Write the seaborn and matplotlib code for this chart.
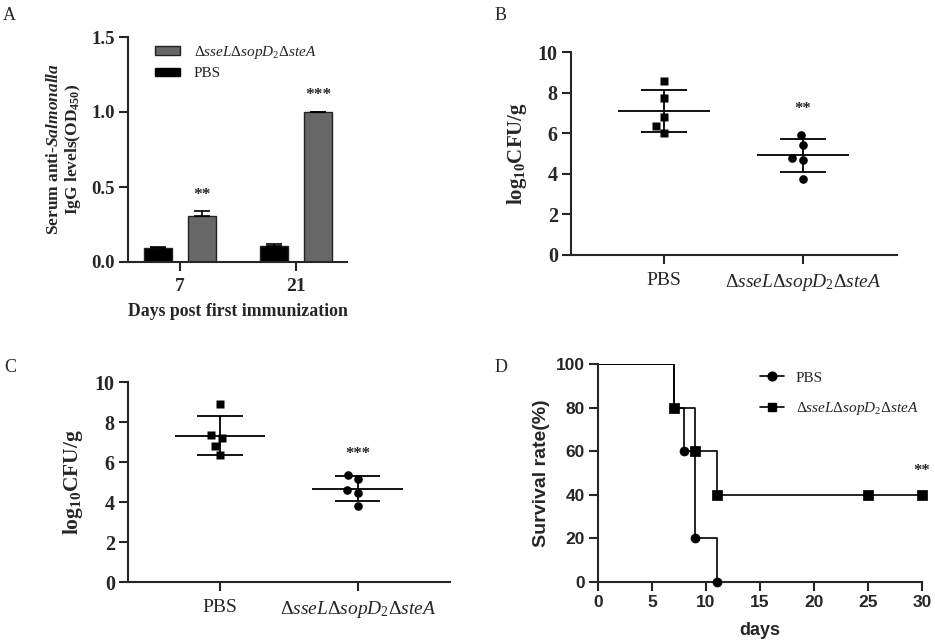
import numpy as np
import pandas as pd
import matplotlib
matplotlib.use('Agg')
import matplotlib.pyplot as plt
import seaborn as sns
from matplotlib.lines import Line2D
from matplotlib.patches import Patch

# ---------------- data ----------------
A_days = ['7', '21']
A_pbs = [0.095, 0.105]
A_pbs_err = [0.005, 0.012]
A_mut = [0.31, 0.997]
A_mut_err = [0.03, 0.006]
A_stars = ['**', '***']

B_pbs = [8.55, 7.75, 6.8, 6.35, 6.0]
B_mut = [5.9, 5.4, 4.8, 4.7, 3.75]
B_star = '**'

C_pbs = [8.9, 7.35, 7.2, 6.8, 6.35]
C_mut = [5.35, 5.15, 4.6, 4.45, 3.8]
C_star = '***'

D_pbs_days = [0, 7, 8, 9, 11]
D_pbs_surv = [100, 80, 60, 20, 0]
D_mut_days = [0, 7, 9, 11, 25, 30]
D_mut_surv = [100, 80, 60, 40, 40, 40]
D_star = '**'

groups = ['PBS', 'mut']
MUT = r'$\mathrm{\Delta}\mathit{sseL}\mathrm{\Delta}\mathit{sopD}_{\mathit{2}}\mathrm{\Delta}\mathit{steA}$'
group_labels = ['PBS', MUT]

# ---------------- style ----------------
sns.set_style('ticks')
plt.rcParams['font.family'] = ['Liberation Serif', 'DejaVu Serif']
plt.rcParams['mathtext.fontset'] = 'custom'
plt.rcParams['mathtext.rm'] = 'Liberation Serif'
plt.rcParams['mathtext.it'] = 'Liberation Serif:italic'
plt.rcParams['mathtext.bf'] = 'Liberation Serif:bold'
try:
    plt.rcParams['mathtext.bfit'] = 'Liberation Serif:italic:bold'
    SAL = r'$\mathbfit{Salmonalla}$'
except KeyError:
    SAL = r'$\mathit{Salmonalla}$'

LW = 1.5
fig = plt.figure(figsize=(9.35, 6.43), dpi=100)

def style_axes(ax, tick_fs, tick_weight='bold', family=None):
    sns.despine(ax=ax)
    for s in ['left', 'bottom']:
        ax.spines[s].set_linewidth(LW)
    ax.tick_params(width=LW, length=6.5, pad=3, labelsize=tick_fs)
    for lab in ax.get_yticklabels():
        lab.set_fontweight(tick_weight)
        if family:
            lab.set_family(family)

def px_ax(l, t, r, b):
    W, H = 935, 643
    return fig.add_axes([l / W, 1 - b / H, (r - l) / W, (b - t) / H])

# ---------------- panel A ----------------
axA = px_ax(128, 37, 347, 262)
dfA = pd.DataFrame({'day': A_days * 2,
                    'group': ['PBS'] * 2 + ['mut'] * 2,
                    'od': A_pbs + A_mut})
sns.barplot(data=dfA, x='day', y='od', hue='group', order=A_days,
            hue_order=groups, palette={'PBS': 'black', 'mut': '#676767'},
            width=0.76, gap=0.37, errorbar=None, edgecolor='#222222',
            linewidth=1, legend=False, ax=axA)
errs = A_pbs_err + A_mut_err
vals = A_pbs + A_mut
bars = [p for p in axA.patches]
for p, v, e in zip(bars, vals, errs):
    xc = p.get_x() + p.get_width() / 2
    axA.errorbar([xc], [v], yerr=[[0], [e]], fmt='none', ecolor='black',
                 elinewidth=1.2, capsize=5.5, capthick=1.2, zorder=3)
for p, v, e, st in zip(bars[2:], A_mut, A_mut_err, A_stars):
    xc = p.get_x() + p.get_width() / 2
    axA.text(xc, v + e + 0.11, st, ha='center', va='center', fontsize=12.5, fontweight='bold')
axA.set_xlim(-0.448, 1.44)
axA.set_ylim(0, 1.5)
axA.set_yticks([0, 0.5, 1.0, 1.5])
axA.set_yticklabels(['0.0', '0.5', '1.0', '1.5'])
style_axes(axA, 13.5)
axA.tick_params(axis='x', pad=5)
for lab in axA.get_xticklabels():
    lab.set_fontweight('bold')
    lab.set_fontsize(14)
axA.set_xlabel('Days post first immunization', fontsize=12.8, fontweight='bold')
axA.xaxis.set_label_coords(0.5, -0.222)
axA.xaxis.label.set_va('center')
axA.set_ylabel('Serum anti-' + SAL + '\n' + r'IgG levels(OD$_{\mathbf{450}}$)',
               fontsize=12.5, fontweight='bold', linespacing=1.1)
axA.yaxis.set_label_coords(-0.29, 0.5)
axA.yaxis.label.set_va('center')
hA = [Patch(facecolor='#676767', edgecolor='#222222', lw=1),
      Patch(facecolor='black', edgecolor='black', lw=1)]
fig.legend(hA, [MUT, 'PBS'], loc='upper left',
           bbox_to_anchor=(155 / 935, 1 - 44 / 643), frameon=False,
           fontsize=11, handlelength=1.65, handleheight=0.45,
           handletextpad=0.9, labelspacing=0.4, borderpad=0, borderaxespad=0)

# ---------------- panels B & C ----------------
def scatter_panel(ax, pbs, mut, star, star_y, xlim, tick_fs, ylab_fs):
    df = pd.DataFrame({'group': ['PBS'] * len(pbs) + ['mut'] * len(mut),
                       'val': pbs + mut})
    # transparent edge widens the swarm spacing without enlarging the marks
    sns.swarmplot(data=df[df.group == 'PBS'], x='group', y='val', order=groups,
                  marker='s', size=5.6, color='black', linewidth=1.8,
                  edgecolor=(0, 0, 0, 0), ax=ax, zorder=3)
    sns.swarmplot(data=df[df.group == 'mut'], x='group', y='val', order=groups,
                  marker='o', size=6.2, color='black', linewidth=1.2,
                  edgecolor=(0, 0, 0, 0), ax=ax, zorder=3)
    for i, g in enumerate(groups):
        v = df.loc[df.group == g, 'val'].to_numpy()
        m, s = v.mean(), v.std(ddof=1)
        ax.hlines(m, i - 0.33, i + 0.33, color='black', lw=1.3, zorder=2)
        ax.hlines([m - s, m + s], i - 0.165, i + 0.165, color='black', lw=1.3, zorder=2)
        ax.vlines(i, m - s, m + s, color='black', lw=1.3, zorder=2)
    ax.text(1, star_y, star, ha='center', va='center', fontsize=12, fontweight='bold')
    ax.set_xlim(*xlim)
    ax.set_ylim(0, 10)
    ax.set_yticks([0, 2, 4, 6, 8, 10])
    ax.set_xticks([0, 1])
    ax.set_xticklabels(group_labels)
    style_axes(ax, tick_fs)
    ax.tick_params(axis='x', pad=6, labelsize=14)
    ax.set_xlabel('')
    ax.set_ylabel(r'log$_{\mathbf{10}}$CFU/g', fontsize=ylab_fs, fontweight='bold')
    ax.yaxis.label.set_va('center')

axB = px_ax(571, 52, 897, 255)
scatter_panel(axB, B_pbs, B_mut, B_star, 7.2, (-0.669, 1.676), 14.5, 15)
axB.yaxis.set_label_coords(-0.167, 0.5)

axC = px_ax(128, 382, 450, 582)
scatter_panel(axC, C_pbs, C_mut, C_star, 6.4, (-0.668, 1.67), 14.5, 15.5)
axC.yaxis.set_label_coords(-0.172, 0.5)

# ---------------- panel D ----------------
axD = px_ax(598, 364, 922, 582)
sns.lineplot(x=D_pbs_days, y=D_pbs_surv, drawstyle='steps-post', color='black',
             lw=1.2, estimator=None, sort=False, ax=axD)
sns.lineplot(x=D_mut_days, y=D_mut_surv, drawstyle='steps-post', color='black',
             lw=1.2, estimator=None, sort=False, ax=axD)
sns.scatterplot(x=D_pbs_days[1:], y=D_pbs_surv[1:], marker='o', s=42,
                color='black', edgecolor='black', ax=axD, zorder=4, clip_on=False)
sns.scatterplot(x=D_mut_days[1:], y=D_mut_surv[1:], marker='s', s=42,
                color='black', edgecolor='black', ax=axD, zorder=5, clip_on=False)
axD.set_xlim(0, 30)
axD.set_ylim(0, 100)
axD.set_xticks(range(0, 31, 5))
axD.set_yticks(range(0, 101, 20))
style_axes(axD, 12.5, family='Liberation Sans')
for lab in axD.get_xticklabels():
    lab.set_fontweight('bold')
    lab.set_family('Liberation Sans')
axD.text(30, 51, D_star, ha='center', va='center', fontsize=12, fontweight='bold')
axD.set_xlabel('days', fontsize=13, fontweight='bold', family='Liberation Sans')
axD.xaxis.set_label_coords(0.5, -0.222)
axD.xaxis.label.set_va('center')
axD.set_ylabel('Survival rate(%)', fontsize=14, fontweight='bold', family='Liberation Sans')
axD.yaxis.set_label_coords(-0.174, 0.5)
axD.yaxis.label.set_va('center')
hD = [Line2D([0], [0], color='black', lw=1.2, marker='o', markersize=6.3),
      Line2D([0], [0], color='black', lw=1.2, marker='s', markersize=6.3)]
fig.legend(hD, ['PBS', MUT], loc='upper left',
           bbox_to_anchor=(760 / 935, 1 - 371 / 643), frameon=False,
           fontsize=11, handlelength=1.55, handletextpad=0.8,
           labelspacing=1.0, borderpad=0, borderaxespad=0)

# ---------------- panel letters ----------------
for x, y, t in [(3, 20, 'A'), (495, 19.5, 'B'), (4, 372, 'C'), (495, 372, 'D')]:
    fig.text(x / 935, 1 - y / 643, t, ha='left', va='baseline', fontsize=13)

fig.savefig('out.png', dpi=100)
